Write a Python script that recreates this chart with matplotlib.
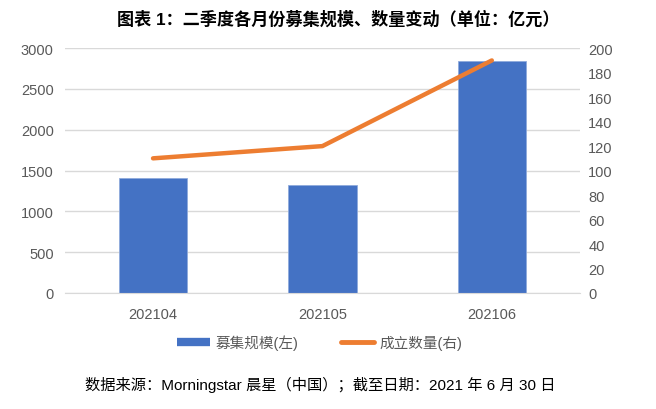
import matplotlib
matplotlib.use("Agg")
import matplotlib.pyplot as plt
from matplotlib.lines import Line2D
import numpy as np

plt.rcParams['font.family'] = ['Liberation Sans', 'Noto Sans CJK SC']

months = ['202104', '202105', '202106']
amount = [1404, 1319, 2837]      # 募集规模, 亿元
counts = [110, 120, 190]         # 成立数量

fig = plt.figure(figsize=(6.56, 4.1), dpi=100)
ax = fig.add_axes([0.099, 0.283, 0.785, 0.597])
ax2 = ax.twinx()

x = np.arange(len(months))
ax.bar(x, amount, width=0.405, color='#4472c4', edgecolor='#8faadc', lw=0.6, zorder=2)
ax2.plot(x, counts, color='#ed7d31', lw=3.2, solid_capstyle='round')

ax.set_xlim(-0.52, 2.52)
ax.set_ylim(0, 3000)
ax.set_yticks(range(0, 3001, 500))
ax2.set_ylim(0, 200)
ax2.set_yticks(range(0, 201, 20))
ax.set_xticks(x)
ax.set_xticklabels(months)

ax.grid(axis='y', color='#d9d9d9', lw=1, zorder=0)
for a in (ax, ax2):
    for s in a.spines.values():
        s.set_visible(False)
    a.tick_params(length=0, labelsize=10.5, colors='#595959')
ax.spines['bottom'].set_visible(True)
ax.spines['bottom'].set_color('#d9d9d9')
ax.tick_params(axis='x', pad=10)
ax.tick_params(axis='y', pad=8)
ax2.tick_params(axis='y', pad=6)

handles = [Line2D([], [], color='#4472c4', lw=6, solid_capstyle='butt'),
           Line2D([], [], color='#ed7d31', lw=3.5, solid_capstyle='round')]
fig.legend(handles, ['募集规模(左)', '成立数量(右)'], loc='center',
           bbox_to_anchor=(0.487, 0.163), ncol=2, frameon=False, fontsize=10.5,
           labelcolor='#595959', handlelength=2.3, handletextpad=0.35,
           columnspacing=2.9)

fig.text(0.515, 0.955, '图表 1：二季度各月份募集规模、数量变动（单位：亿元）',
         ha='center', va='center', fontsize=12.3, fontweight='bold')
fig.text(0.488, 0.06, '数据来源：Morningstar 晨星（中国）；截至日期：2021 年 6 月 30 日',
         ha='center', va='center', fontsize=11, color='#000000')

fig.savefig('out.png', dpi=100)
